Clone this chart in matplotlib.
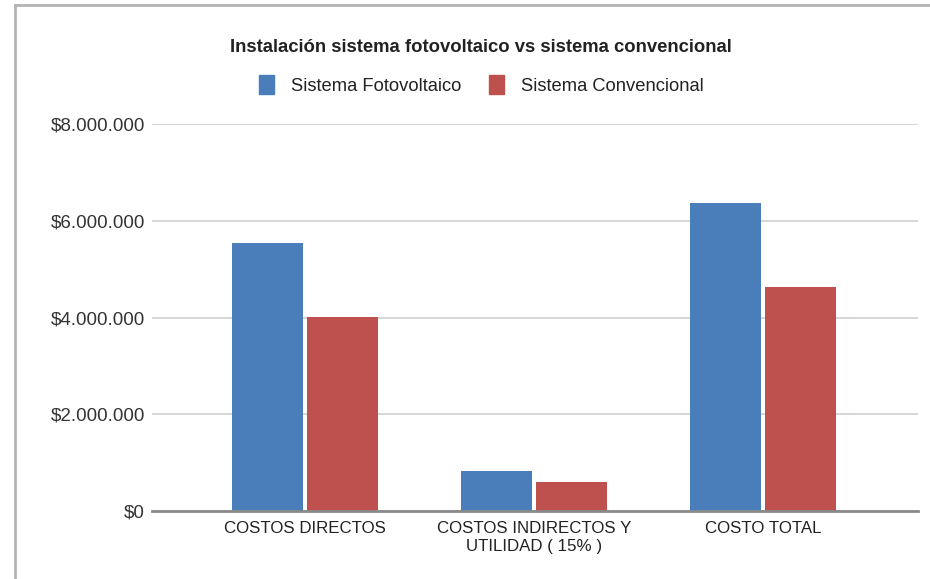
import matplotlib
matplotlib.use("Agg")
import matplotlib.pyplot as plt
from matplotlib.lines import Line2D
from matplotlib.patches import Patch
from matplotlib.ticker import FuncFormatter
import numpy as np

categories = ["COSTOS DIRECTOS", "COSTOS INDIRECTOS Y\nUTILIDAD ( 15% )", "COSTO TOTAL"]
series_names = ["Sistema Fotovoltaico", "Sistema Convencional"]
fotovoltaico = [5540000, 831000, 6371000]
convencional = [4020000, 603000, 4623000]
y_ticks = [0, 2000000, 4000000, 6000000, 8000000]

BLUE = "#4a7ebb"
RED = "#be504d"
FONT = ["Liberation Sans", "DejaVu Sans"]

W, H = 930, 579
fig = plt.figure(figsize=(W / 100, H / 100), dpi=100)
fig.patch.set_facecolor("white")

left, right = 152 / W, 918 / W
bottom, top = 1 - 511 / H, 1 - 124 / H
ax = fig.add_axes([left, bottom, right - left, top - bottom])

x = np.arange(len(categories))
bw = 0.31
gap = 0.008
ax.bar(x - bw / 2 - gap, fotovoltaico, width=bw, color=BLUE, zorder=3)
ax.bar(x + bw / 2 + gap, convencional, width=bw, color=RED, zorder=3)

ax.set_xlim(-0.668, 2.677)
ax.set_ylim(0, 8000000)
ax.set_yticks(y_ticks)
ax.yaxis.set_major_formatter(FuncFormatter(
    lambda v, _: "$" + f"{int(v):,}".replace(",", ".")))
ax.set_xticks(x)
ax.set_xticklabels(categories, fontfamily=FONT, fontsize=12.2, color="#222222",
                   linespacing=1.3)
for lbl in ax.get_yticklabels():
    lbl.set_fontfamily(FONT)
    lbl.set_fontsize(13.5)
    lbl.set_color("#333333")

ax.grid(axis="y", color="#d6d6d6", linewidth=1.4, zorder=0)
ax.tick_params(axis="both", length=0)
ax.tick_params(axis="y", pad=5)
ax.tick_params(axis="x", pad=7)
for s in ["top", "right", "left"]:
    ax.spines[s].set_visible(False)
ax.spines["bottom"].set_color("#8a8a8a")
ax.spines["bottom"].set_linewidth(2)
ax.spines["bottom"].set_zorder(4)

fig.text(481 / W, 1 - 47 / H, "Instalación sistema fotovoltaico vs sistema convencional",
         ha="center", va="center", fontfamily=FONT, fontweight="bold",
         fontsize=13.3, color="#222222")

handles = [Patch(facecolor=BLUE, edgecolor=BLUE), Patch(facecolor=RED, edgecolor=RED)]
fig.legend(handles, series_names, loc="center", bbox_to_anchor=(481 / W, 1 - 85 / H),
           ncol=2, frameon=False, prop={"family": FONT, "size": 13.2},
           handlelength=0.85, handleheight=1.2, handletextpad=0.9, columnspacing=1.5,
           labelcolor="#222222")

# frame around the chart (left and top edges)
fig.add_artist(Line2D([15 / W, 15 / W], [0, 1 - 5 / H], transform=fig.transFigure,
                      color="#b4b4b4", linewidth=2))
fig.add_artist(Line2D([15 / W, 1], [1 - 5 / H, 1 - 5 / H], transform=fig.transFigure,
                      color="#b4b4b4", linewidth=2))

fig.savefig("out.png", dpi=100, facecolor="white")
